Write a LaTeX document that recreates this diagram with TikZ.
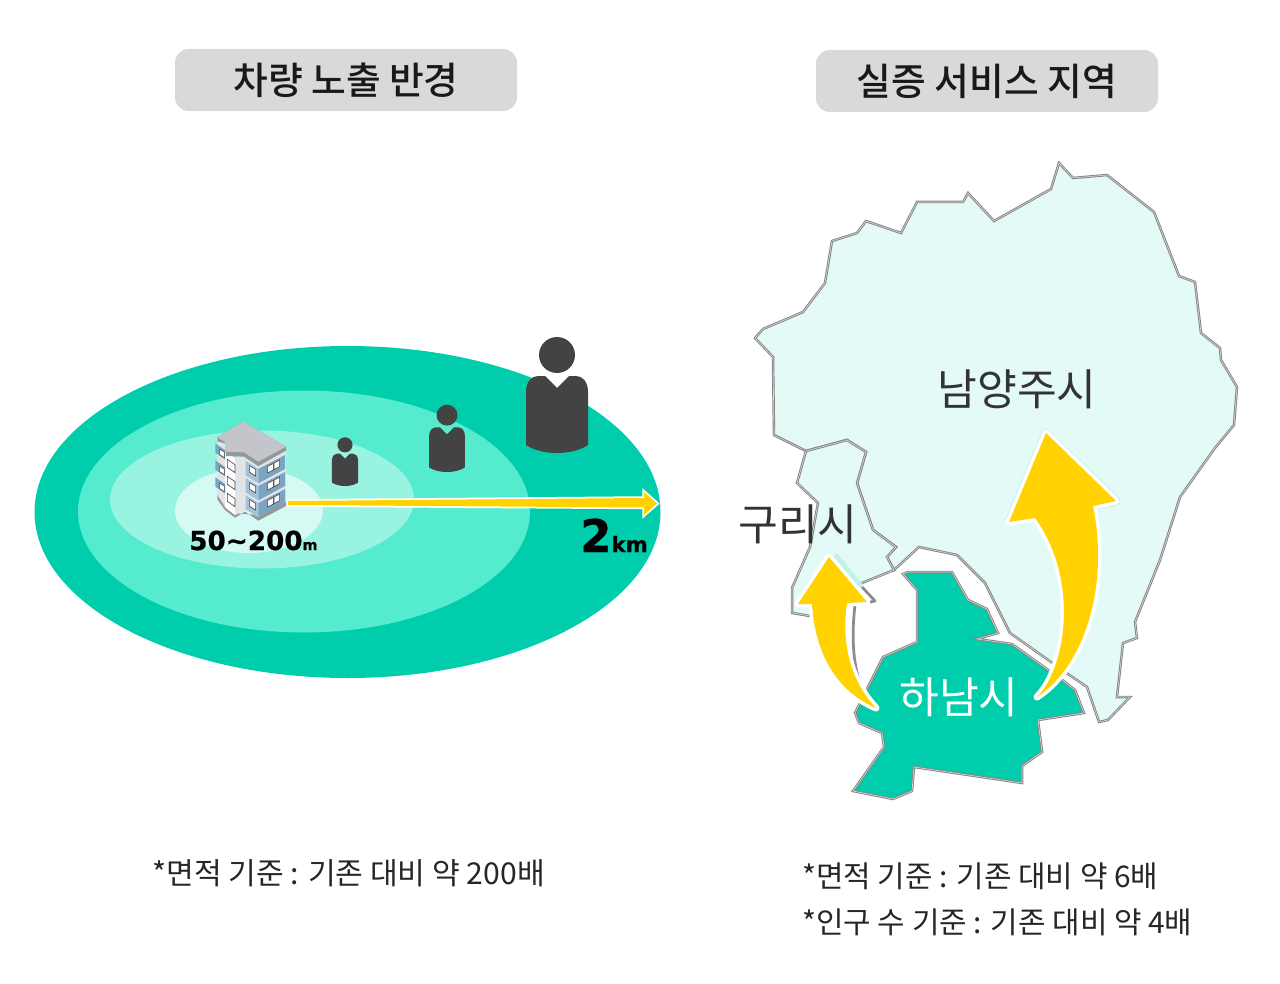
\documentclass[tikz,border=0pt]{standalone}
\usepackage{fontspec}
\setmainfont{Noto Sans CJK KR}
\newfontfamily\titlefont{Noto Sans CJK KR Medium}
\newfontfamily\unitfont{DejaVu Sans}[BoldFeatures={FakeBold=0.6}]
\definecolor{TitleGray}{HTML}{d9d9d9}
\definecolor{TextDark}{HTML}{333333}
\definecolor{FigDark}{HTML}{434343}
\definecolor{RingA}{HTML}{00cdac}
\definecolor{RingB}{HTML}{55ebcf}
\definecolor{RingC}{HTML}{98f4e0}
\definecolor{RingD}{HTML}{d5faf3}
\definecolor{MapPale}{HTML}{e3faf7}
\definecolor{MapLine}{HTML}{858585}
\definecolor{MapInner}{HTML}{d8d8d8}
\definecolor{ArrowYellow}{HTML}{ffd200}
\definecolor{GlowTeal}{HTML}{c4f2ea}
\definecolor{RoofGray}{HTML}{c3c5cb}
\definecolor{BaseGray}{HTML}{97979a}
\definecolor{WingGray}{HTML}{e2e4e8}
\definecolor{BandBlue}{HTML}{7aa5c2}
\definecolor{BandPale}{HTML}{a3c3d9}
\tikzset{
  titlebox/.style={fill=TitleGray,rounded corners=11pt,minimum width=273.6pt,minimum height=49.6pt,inner sep=0pt,font=\titlefont\fontsize{30.2pt}{36pt}\selectfont,text=black!90},
  maplabel/.style={inner sep=0pt,font=\fontsize{34.6pt}{40pt}\selectfont,text=TextDark},
  notetext/.style={inner sep=0pt,anchor=west,font=\fontsize{24.1pt}{30pt}\selectfont,text=black!85},
  region/.style={draw=MapLine,line width=0.75pt,double=MapInner,double distance=0.5pt,line join=miter},
  yellowarrow/.style={fill=ArrowYellow,preaction={draw=white,line width=5.6pt,line join=round}},
  glowline/.style={draw=GlowTeal,line width=7pt,line join=round},
  winbox/.style={fill=white,draw=FigDark,line width=0.5pt},
}
\begin{document}
\begin{tikzpicture}[y=0.80pt, x=0.80pt, yscale=-1.000000, xscale=1.000000]
  \useasboundingbox (0,0) rectangle (1280,984);
  % left: rings
  \fill[RingA] (347.5,512) ellipse (313 and 166);
  \fill[RingB] (304,511.5) ellipse (226 and 121);
  \fill[RingC] (262,499.5) ellipse (152 and 69);
  \fill[RingD] (249,510.5) ellipse (74 and 42.5);
  % left: arrow
  \path[fill=ArrowYellow,preaction={draw=white,line width=2.8pt,line join=miter}] (288,501) -- (644,498) --
    (644,492) -- (657,503.5) -- (644,515) -- (644,507.5) -- (288,505) -- cycle;
  % left: people
  \foreach \px/\py/\ps in {345/486/0.42,447/472/0.58,557/453/1.0}{
    \begin{scope}[shift={(\px,\py)},scale=\ps]
      \fill[FigDark] (0,-98) circle (18);
      \fill[FigDark] (-31,-61) .. controls (-31,-72) and (-25,-77) .. (-19,-77) -- (-12,-77) -- (0,-65) --
        (12,-77) -- (19,-77) .. controls (25,-77) and (31,-72) .. (31,-61) -- (31,-8) .. controls
        (22,-2) and (10,0) .. (0,0) .. controls (-10,0) and (-22,-2) .. (-31,-8) -- cycle;
    \end{scope}
  }
  % left: building
  \begin{scope}[shift={(190,400)},scale=0.33333]
    \fill[BaseGray] (82,280) -- (105,295) -- (140,340) -- (205,345) -- (288,300) -- (288,318) -- (205,362) -- (165,335) -- (135,353) -- (105,330) -- (82,298) -- cycle;
    \fill[WingGray] (82,120) -- (105,135) -- (105,320) -- (82,285) -- cycle;
    \fill[WingGray] (165,175) -- (205,200) -- (288,150) -- (288,305) -- (205,350) -- (165,325) -- cycle;
    \fill[WingGray] (135,175) -- (165,160) -- (165,330) -- (135,345) -- cycle;
    \fill[white] (105,150) -- (135,175) -- (135,345) -- (105,322) -- cycle;
    \foreach \dy in {0,51,102}{
      \fill[BandBlue] (76,130+\dy) -- (105,150+\dy) -- (105,178+\dy) -- (76,158+\dy) -- cycle;
      \path[winbox] (89,147+\dy) -- (103,156+\dy) -- (103,173+\dy) -- (89,164+\dy) -- cycle;
      \path[winbox] (112,178+\dy) -- (135,194+\dy) -- (135,218+\dy) -- (112,202+\dy) -- cycle;
      \fill[BandPale] (167,183+\dy) -- (205,207+\dy) -- (205,250+\dy) -- (167,226+\dy) -- cycle;
      \fill[BandBlue] (205,207+\dy) -- (285,165+\dy) -- (285,207+\dy) -- (205,250+\dy) -- cycle;
      \path[winbox] (179,197+\dy) -- (197,208+\dy) -- (197,228+\dy) -- (179,217+\dy) -- cycle;
      \path[winbox] (233,199+\dy) -- (250,190+\dy) -- (250,210+\dy) -- (233,219+\dy) -- cycle;
      \path[winbox] (252,189+\dy) -- (269,180+\dy) -- (269,200+\dy) -- (252,209+\dy) -- cycle;
    }
    \fill[BaseGray] (82,112) -- (160,65) -- (288,140) -- (288,152) -- (205,198) -- (162,170) -- (108,168) -- (105,130) -- (82,124) -- cycle;
    \fill[RoofGray] (82,112) -- (160,65) -- (288,140) -- (205,185) -- (162,157) -- (105,155) -- (105,126) -- cycle;
  \end{scope}
  % right: map
  \path[region,fill=MapPale] (755,338) -- (763,329) -- (803,312) -- (825,283) -- (832,241) -- (857,233) --
    (866,221) -- (901,233) -- (917,202) -- (963,202) -- (968,193) -- (994,221) -- (1051,189) -- (1059,163) --
    (1073,178) -- (1107,175) -- (1154,212) -- (1179,276) -- (1195,282) -- (1201,333) -- (1220,348) --
    (1221,360) -- (1237,387) -- (1234,425) -- (1215,448) -- (1180,497) -- (1160,560) -- (1135,622) --
    (1137,638) -- (1123,643) -- (1117,697) -- (1130,697) -- (1108,720) -- (1099,722) -- (1087,687) --
    (1068,674) -- (1010,633) -- (985,583) -- (957,555) -- (919,547) -- (894,570) -- (887,557) -- (896,547) --
    (873,530) -- (857,483) -- (866,452) -- (847,440) -- (806,451) -- (774,435) -- (773,357) -- cycle;
  \path[region,fill=MapPale] (806,451) -- (847,440) -- (866,452) -- (857,483) -- (873,530) -- (896,547) --
    (887,557) -- (894,570) -- (857,585) -- (830,610) -- (810,616) -- (792,613) -- (792,588) -- (810,547) --
    (818,503) -- (797,483) -- cycle;
  \path[region,fill=RingA] (903,574) -- (908,572) -- (952,572) -- (968,600) -- (987,609) -- (998,633) --
    (977,639) -- (1012,644) -- (1065,682) -- (1075,690) -- (1084,713) -- (1038,720) -- (1042,752) --
    (1022,766) -- (1022,783) -- (914,767) -- (912,791) -- (893,799) -- (853,791) -- (884,747) -- (882,733) --
    (859,723) -- (855,713) -- (863,697) -- (883,657) -- (917,642) -- (917,590) -- cycle;
  % right: arrow shadow and glow
  \draw[black!45,line width=2.2pt,line join=round] (862,587) -- (875,601) -- (855,605) .. controls
    (851,640) and (853,670) .. (865,696);
  \draw[glowline] (834,556) -- (860,588);
  \draw[glowline] (1009,522) -- (1046,433) -- (1116,501) -- (1093,506);
  % right: arrows
  \path[yellowarrow] (876,708) .. controls (838,692) and (815,655) .. (812,604) -- (798,604) -- (829,557) --
    (867,602) -- (847,603) .. controls (842,637) and (847,677) .. (876,708) -- cycle;
  \path[yellowarrow] (1037,697) .. controls (1066,668) and (1080,580) .. (1035,518) -- (1009,522) -- (1046,433) --
    (1116,501) -- (1093,506) .. controls (1110,590) and (1082,668) .. (1037,697) -- cycle;
  % texts
  \node[titlebox] (titleExposure) at (346,80) {차량 노출 반경};
  \node[titlebox] (titleService) at (987,81) {실증 서비스 지역};
  \node[maplabel] (labelNamyangju) at (1017,389) {남양주시};
  \node[maplabel] (labelGuri) at (798,524) {구리시};
  \node[maplabel,text=white] (labelHanam) at (959,697) {하남시};
  \node[inner sep=0pt,anchor=base west] (labelNear) at (189,550) {\unitfont\bfseries\fontsize{21pt}{24pt}\selectfont 50\char`\~200\fontsize{11.5pt}{12pt}\selectfont m};
  \node[inner sep=0pt,anchor=base west] (labelFar) at (580,552) {\unitfont\bfseries\fontsize{36pt}{40pt}\selectfont 2\fontsize{17pt}{20pt}\selectfont km};
  \node[notetext] (noteExposure) at (152,873) {*면적 기준 : 기존 대비 약 200배};
  \node[notetext,font=\fontsize{23.9pt}{30pt}\selectfont] (noteArea) at (802,876) {*면적 기준 : 기존 대비 약 6배};
  \node[notetext,font=\fontsize{23.9pt}{30pt}\selectfont] (notePeople) at (802,922) {*인구 수 기준 : 기존 대비 약 4배};
\end{tikzpicture}
\end{document}
